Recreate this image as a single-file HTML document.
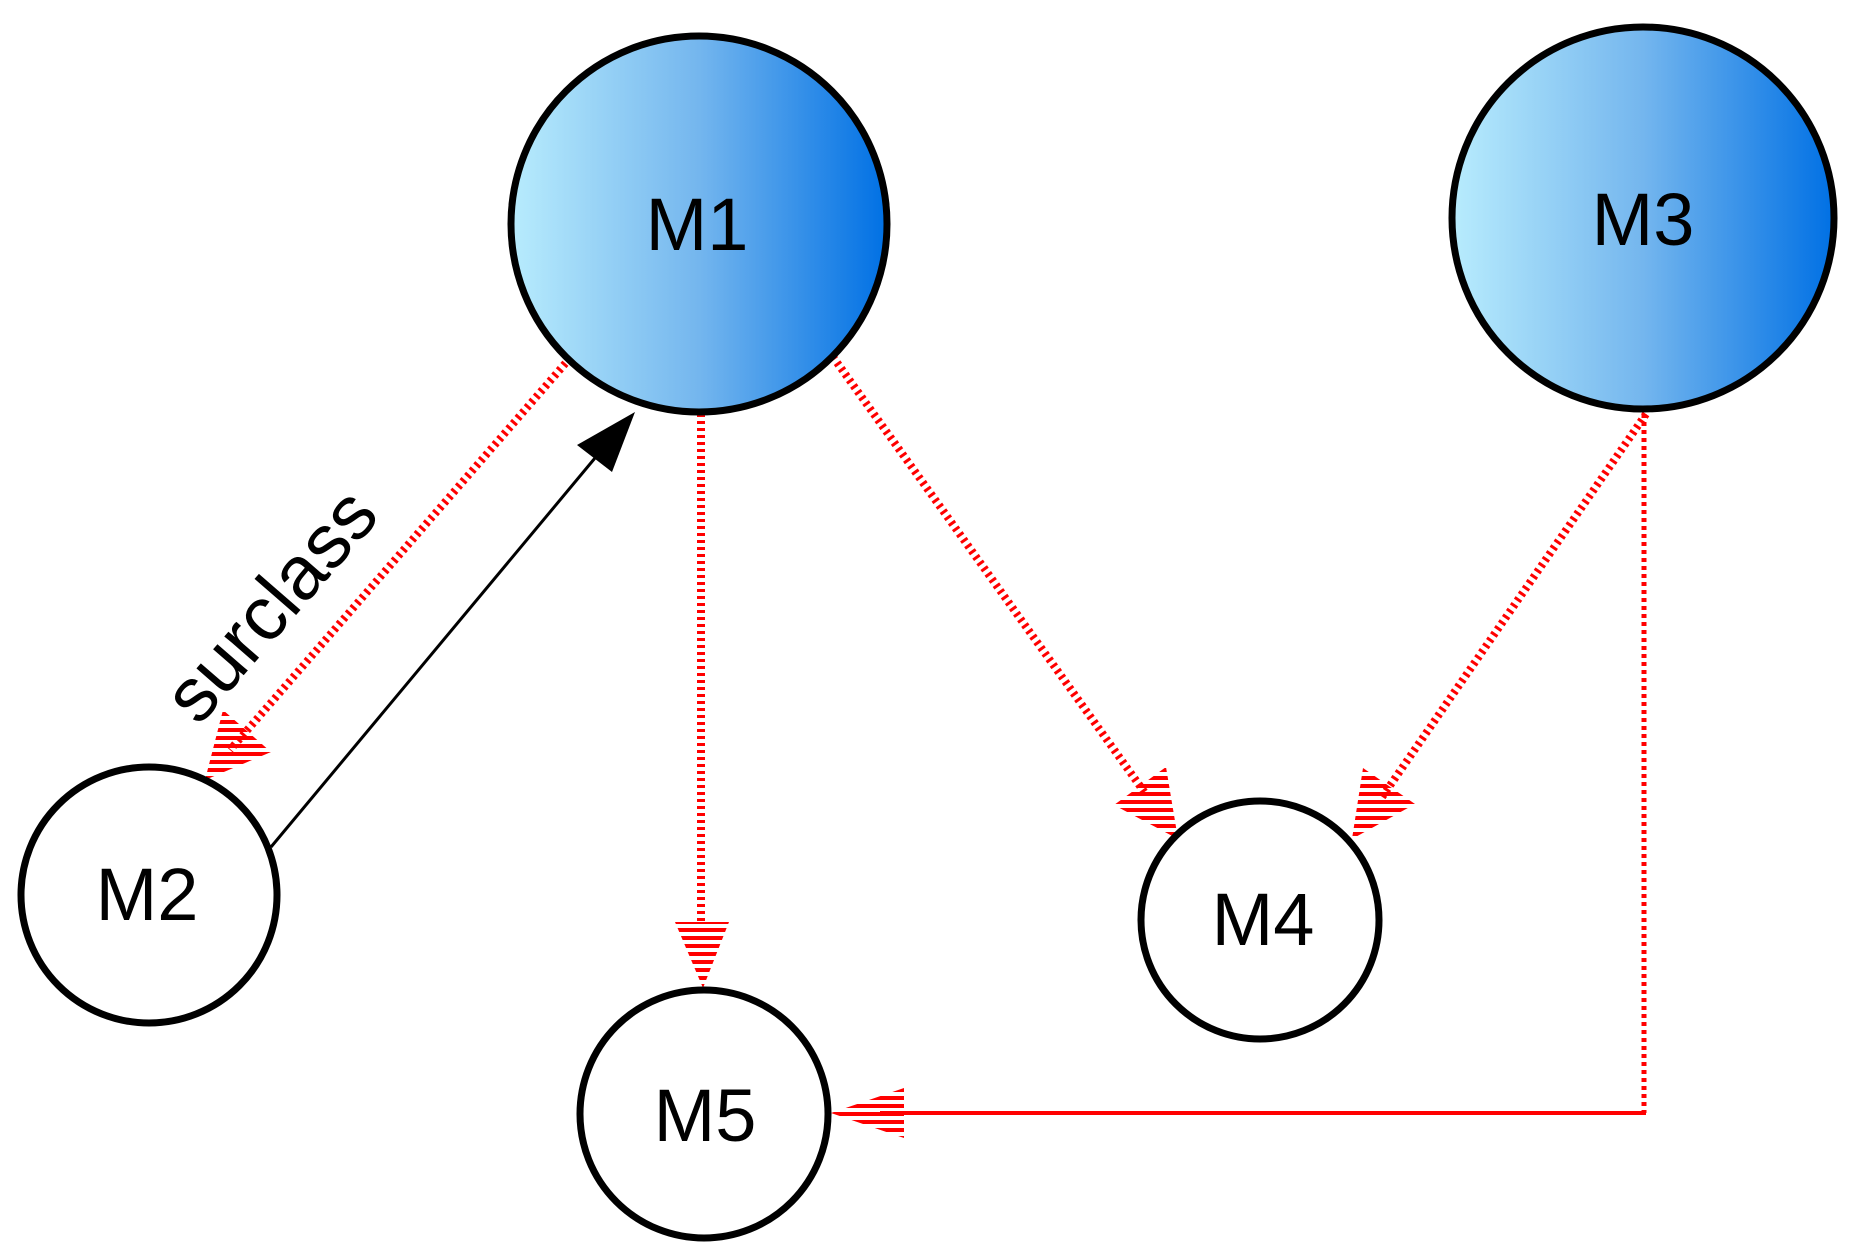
<!DOCTYPE html>
<html><head><meta charset="utf-8"><style>html,body{margin:0;padding:0;background:#fff}svg{display:block}</style></head>
<body>
<svg width="1856" height="1260" viewBox="0 0 1856 1260" xmlns="http://www.w3.org/2000/svg">
<defs>
<linearGradient id="g" x1="0" y1="0" x2="1" y2="0">
<stop offset="0" stop-color="#b8ecfd"/>
<stop offset="0.5" stop-color="#74b6ee"/>
<stop offset="1" stop-color="#0070e4"/>
</linearGradient>
<pattern id="h" width="10" height="8" patternUnits="userSpaceOnUse">
<rect x="0" y="0" width="10" height="4" fill="#ff0000"/>
</pattern>
</defs>
<g stroke="#ff0000" stroke-width="8" stroke-dasharray="3 4" fill="none">
<line x1="570" y1="358" x2="230" y2="750"/>
<line x1="701" y1="414" x2="701" y2="925"/>
<line x1="833" y1="357" x2="1145" y2="793"/>
<line x1="1646" y1="414" x2="1380" y2="800"/>
</g>
<line x1="1644" y1="414" x2="1644" y2="1113" stroke="#ff0000" stroke-width="5" stroke-dasharray="4 4"/>
<line x1="1646" y1="1113" x2="880" y2="1113" stroke="#ff0000" stroke-width="4"/>
<g fill="url(#h)">
<polygon points="675,922 729,922 703,988"/>
<polygon points="831,1113 904,1088 904,1138"/>
<polygon points="205,780 271,752 223,710"/>
<polygon points="1178,839 1166,767 1114,805"/>
<polygon points="1352,839 1415,804 1363,768"/>
</g>
<line x1="271" y1="847" x2="610" y2="440" stroke="#000" stroke-width="3"/>
<polygon points="635,412 612,472 577,445" fill="#000"/>
<circle cx="699" cy="224" r="188" fill="url(#g)" stroke="#000" stroke-width="7"/>
<circle cx="1643" cy="218" r="191" fill="url(#g)" stroke="#000" stroke-width="7"/>
<circle cx="149" cy="895" r="128" fill="#fff" stroke="#000" stroke-width="7"/>
<circle cx="1260" cy="920" r="119" fill="#fff" stroke="#000" stroke-width="7"/>
<circle cx="704" cy="1114" r="124" fill="#fff" stroke="#000" stroke-width="7"/>
<g font-family="Liberation Sans, sans-serif" font-size="74" text-anchor="middle" fill="#000">
<text x="697" y="250">M1</text>
<text x="1643" y="245">M3</text>
<text x="147" y="920">M2</text>
<text x="1263" y="945">M4</text>
<text x="705" y="1141">M5</text>
</g>
<text x="0" y="0" font-family="Liberation Sans, sans-serif" font-size="76" text-anchor="middle" transform="translate(290,622) rotate(-49)">surclass</text>
</svg>
</body></html>
